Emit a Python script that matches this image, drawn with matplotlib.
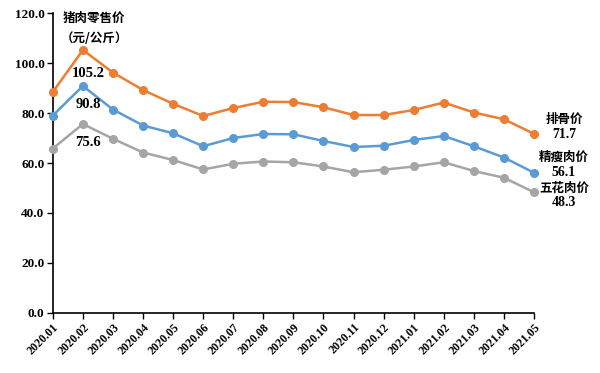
import matplotlib.pyplot as plt

plt.rcParams['font.family'] = ['Liberation Serif', 'Noto Sans CJK SC']
plt.rcParams['font.weight'] = 'bold'

months = ["2020.01", "2020.02", "2020.03", "2020.04", "2020.05", "2020.06",
          "2020.07", "2020.08", "2020.09", "2020.10", "2020.11", "2020.12",
          "2021.01", "2021.02", "2021.03", "2021.04", "2021.05"]
ribs = [88.4, 105.2, 96.2, 89.2, 83.7, 78.8, 82.0, 84.5, 84.4, 82.3, 79.2, 79.2,
        81.2, 84.2, 80.2, 77.5, 71.7]
lean = [79.0, 90.8, 81.4, 75.0, 71.9, 66.7, 70.0, 71.6, 71.5, 68.8, 66.4, 66.9,
        69.2, 70.8, 66.7, 62.2, 56.1]
belly = [65.8, 75.6, 69.7, 64.2, 61.2, 57.4, 59.7, 60.6, 60.3, 58.6, 56.3, 57.3,
         58.6, 60.3, 56.8, 54.1, 48.3]

series = [
    ("排骨价", ribs, "#ED7D31"),
    ("精瘦肉价", lean, "#5B9BD5"),
    ("五花肉价", belly, "#A5A5A5"),
]

fig = plt.figure(figsize=(6.0, 3.73), dpi=100)
ax = fig.add_axes([0.088, 0.161, 0.802, 0.804])

x = list(range(len(months)))
for name, vals, color in series:
    ax.plot(x, vals, color=color, lw=1.8, marker="o", ms=5.5, clip_on=False, zorder=3)

ax.set_xlim(0, len(months) - 1)
ax.set_ylim(0, 120)
ax.set_yticks(range(0, 121, 20))
ax.set_yticklabels([f"{v:.1f}" for v in range(0, 121, 20)], fontsize=9.5, fontweight="bold")
ax.set_xticks(x)
ax.set_xticklabels(months, rotation=45, ha="right", rotation_mode="anchor",
                   fontsize=8.5, fontweight="bold")
ax.tick_params(direction="out", length=4, width=1, pad=2)
for side in ("top", "right"):
    ax.spines[side].set_visible(False)
for side in ("left", "bottom"):
    ax.spines[side].set_linewidth(1.2)

cjk = ['Noto Sans CJK SC']
ax.text(1.38, 120.5, "猪肉零售价\n（元/公斤）", fontsize=9, fontweight="bold",
        family=cjk, ha="center", va="top", linespacing=1.7)

# peak labels under 2020.02
for vals, dy in zip((ribs, lean, belly), (-23, -18, -18)):
    ax.annotate(f"{vals[1]:.1f}", (1, vals[1]), xytext=(5, dy), textcoords="offset pixels",
                ha="center", va="center", fontsize=10.5, fontweight="bold")

# end labels at the right
for (name, vals, color), dn, dv in zip(series, (14, 15, 4), (-1, 0, -10)):
    ax.annotate(name, (16, vals[-1]), xytext=(30, dn), textcoords="offset pixels",
                ha="center", va="center", fontsize=9, fontweight="bold",
                family=cjk, annotation_clip=False)
    ax.annotate(f"{vals[-1]:.1f}", (16, vals[-1]), xytext=(30, dv),
                textcoords="offset pixels", ha="center", va="center",
                fontsize=10, fontweight="bold", annotation_clip=False)

fig.savefig("out.png", dpi=100)
